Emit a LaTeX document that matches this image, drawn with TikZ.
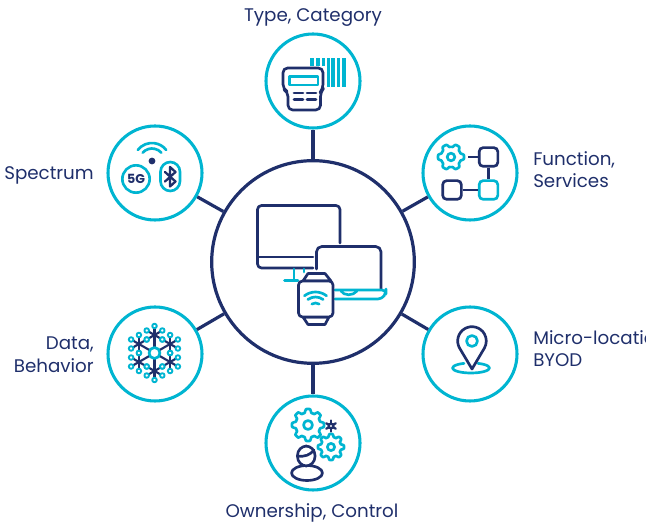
\documentclass[tikz,border=0pt]{standalone}
\usepackage{fontspec}
\setmainfont{Poppins}
\usepackage{tikz}
\usetikzlibrary{shapes,positioning}

\definecolor{iconNavy}{HTML}{1F2F6B}
\definecolor{iconCyan}{HTML}{00B5D1}

\tikzset{
  hubnode/.style={draw=iconNavy,fill=white,circle,line width=2.4pt,minimum size=152pt},
  satnode/.style={draw=iconCyan,fill=white,circle,line width=2.3pt,minimum size=70.5pt},
  link/.style={draw=iconNavy,line width=2.4pt},
  label/.style={text=iconNavy,font=\fontsize{13.7}{17}\selectfont,inner sep=0pt},
  navyline/.style={draw=iconNavy,line width=2pt,line cap=round,line join=round},
  cyanline/.style={draw=iconCyan,line width=2pt,line cap=round,line join=round},
  fnbox/.style={draw,rectangle,rounded corners=3pt,line width=2pt,minimum size=14pt,inner sep=0pt},
}

\newcommand{\gearicon}[6]{%
  \draw[#6,shift={(#1,#2)}] plot[variable=\t,domain=0:360,samples=145]
    (\t:{#3*(0.89+0.11*max(-1,min(1,1.8*cos(#5*\t))))}) -- cycle (0,0) circle[radius=#4];
}
\newcommand{\wifiarc}[4]{%
  \draw[cyanline] (#1,#2) ++({270-#4}:#3) arc[start angle={270-#4},end angle={270+#4},radius=#3];
}

\begin{document}
\begin{tikzpicture}[x=0.75pt,y=-0.75pt]
  \useasboundingbox (0,0) rectangle (646,523);
  \clip (0,0) rectangle (646,523);

  \node[hubnode] (hub) at (313,262) {};
  \node[satnode] (typecat)  at (313,81)  {};
  \node[satnode] (spectrum) at (155,173) {};
  \node[satnode] (function) at (470,173) {};
  \node[satnode] (data)     at (155,354) {};
  \node[satnode] (microloc) at (470,354) {};
  \node[satnode] (owner)    at (313,443) {};

  \foreach \sat in {typecat,spectrum,function,data,microloc,owner}
    \draw[link] (hub) -- (\sat);

  \node[label] (typelabel)  at (313,18)  {Type, Category};
  \node[label,anchor=east] (speclabel) at (94,175) {Spectrum};
  \node[label,anchor=west,align=left] (funclabel) at (533,169.5) {Function,\\Services};
  \node[label,anchor=east,align=right] (datalabel) at (94,355) {Data,\\Behavior};
  \node[label,anchor=west,align=left] (microlabel) at (533,348.5) {Micro-location,\\BYOD};
  \node[label] (ownerlabel) at (312,513) {Ownership, Control};

  % hub icon
  \draw[navyline,rounded corners=3pt] (340,243) -- (340,205.5) -- (257.5,205.5) -- (257.5,268) -- (313,268);
  \draw[navyline] (258,257) -- (313,257);
  \draw[cyanline] (294,269) -- (294,280.5) (284.5,280.5) -- (298,280.5) (304,269) -- (304,272);
  \draw[navyline,rounded corners=4pt] (316.5,269) -- (316.5,246.5) -- (381,246.5) -- (381,289);
  \draw[cyanline,rounded corners=3pt] (335,290) -- (386,290) -- (386,293) -- (382,299) -- (335,299);
  \draw[cyanline] (341,291) .. controls (344,296) and (353,296) .. (357,291);
  \draw[navyline,fill=white] (303,281) -- (308,273.5) -- (325,273.5) -- (331,281) -- cycle;
  \draw[navyline,fill=white] (303,317) -- (308,324.5) -- (325,324.5) -- (329,317) -- cycle;
  \draw[navyline,fill=white,rounded corners=3pt] (298.5,281) rectangle (333,317);
  \wifiarc{315.5}{310}{18}{38}
  \wifiarc{315.5}{310}{13}{36}
  \wifiarc{315.5}{310}{7}{32}

  % type, category
  \foreach \bx/\bw in {310/3.5,316/3.5,322/3}
    \fill[iconCyan] (\bx,58) rectangle ++(\bw,8);
  \foreach \bx/\bw in {327/2.5,331/3.5,337/3,342/4}
    \fill[iconCyan] (\bx,58) rectangle ++(\bw,29);
  \draw[navyline,fill=white,rounded corners=3.5pt] (283,68) -- (323,68) -- (323,89) -- (320.5,92) -- (320.5,110) -- (288,110) -- (288,92) -- (283,89) -- cycle;
  \draw[cyanline] (289.5,76.5) rectangle (318,85);
  \draw[navyline] (294,93) -- (303,93) (307,93) -- (316,93) (294,99.5) -- (303,99.5) (307,99.5) -- (316,99.5);

  % spectrum
  \fill[iconNavy] (152,161) circle[radius=3.4];
  \wifiarc{152}{161}{18}{52}
  \wifiarc{152}{161}{12.5}{48}
  \node[draw=iconCyan,line width=2pt,circle,minimum size=20.5pt,inner sep=0pt,text=iconNavy,font=\fontsize{9.5}{10}\selectfont\bfseries] (fiveg) at (136,179) {5G};
  \draw[cyanline,rounded corners=7.4pt] (160.5,162) rectangle (180,191);
  \draw[navyline,line width=1.7pt] (165,172) -- (175.5,181.5) -- (170,186.5) -- (170,167) -- (175.5,172) -- (165,181.5);

  % function, services
  \gearicon{451}{157}{13}{3.8}{6}{cyanline}
  \coordinate (fngear) at (468,157);
  \node[fnbox,draw=iconNavy] (fnA) at (488.5,157) {};
  \node[fnbox,draw=iconCyan] (fnB) at (488.5,190) {};
  \node[fnbox,draw=iconNavy] (fnC) at (452,190) {};
  \draw[navyline,line cap=butt] (fngear) -- (fnA);
  \draw[navyline,line cap=butt] (fnA) -- (fnB);
  \draw[navyline,line cap=butt] (fnC) -- (fnB);

  % data, behavior
  \begin{scope}[shift={(154.5,353)}]
    \foreach \a in {30,90,...,330} {
      \draw[navyline,line width=1.6pt] (0,0) -- (\a:18);
      \foreach \b in {-120,-60,...,120}
        \draw[navyline,line width=1.6pt] (\a:18) -- ++(\a+\b:9);
    }
    \foreach \a in {30,90,...,330}
      \foreach \b in {-120,-60,...,120}
        \draw[cyanline,line width=1.4pt,fill=white] (\a:18) ++(\a+\b:9) circle[radius=2.3];
    \draw[cyanline,fill=white] (0,0) circle[radius=5.5];
  \end{scope}

  % micro-location
  \draw[cyanline] ({471+18.5*cos(292)},{368+5*sin(292)}) arc[start angle=292,end angle=608,x radius=18.5,y radius=5];
  \draw[navyline] (472,369) -- (459.6,348.15) arc[start angle=150,end angle=390,radius=14.3] -- cycle;
  \draw[cyanline] (472,341) circle[radius=5.5];

  % ownership, control
  \gearicon{308}{425}{16}{4.5}{8}{cyanline}
  \gearicon{331}{447}{13}{3.6}{8}{cyanline}
  \foreach \a in {0,60,120}
    \draw[navyline,line width=1.7pt] (331,426) ++(\a+30:5.5) -- ++(\a+210:11);
  \fill[iconNavy] (331,426) circle[radius=3.6];
  \fill[white] (331,426) circle[radius=1.2];
  \draw[navyline,fill=white] (307,473) ellipse[x radius=15.5,y radius=7.5];
  \draw[navyline,fill=white,rounded corners=7pt] (297.5,466) rectangle (315,446);
  \draw[navyline] (297.5,456) .. controls (305,457) and (310,455) .. (314,450);
\end{tikzpicture}
\end{document}
